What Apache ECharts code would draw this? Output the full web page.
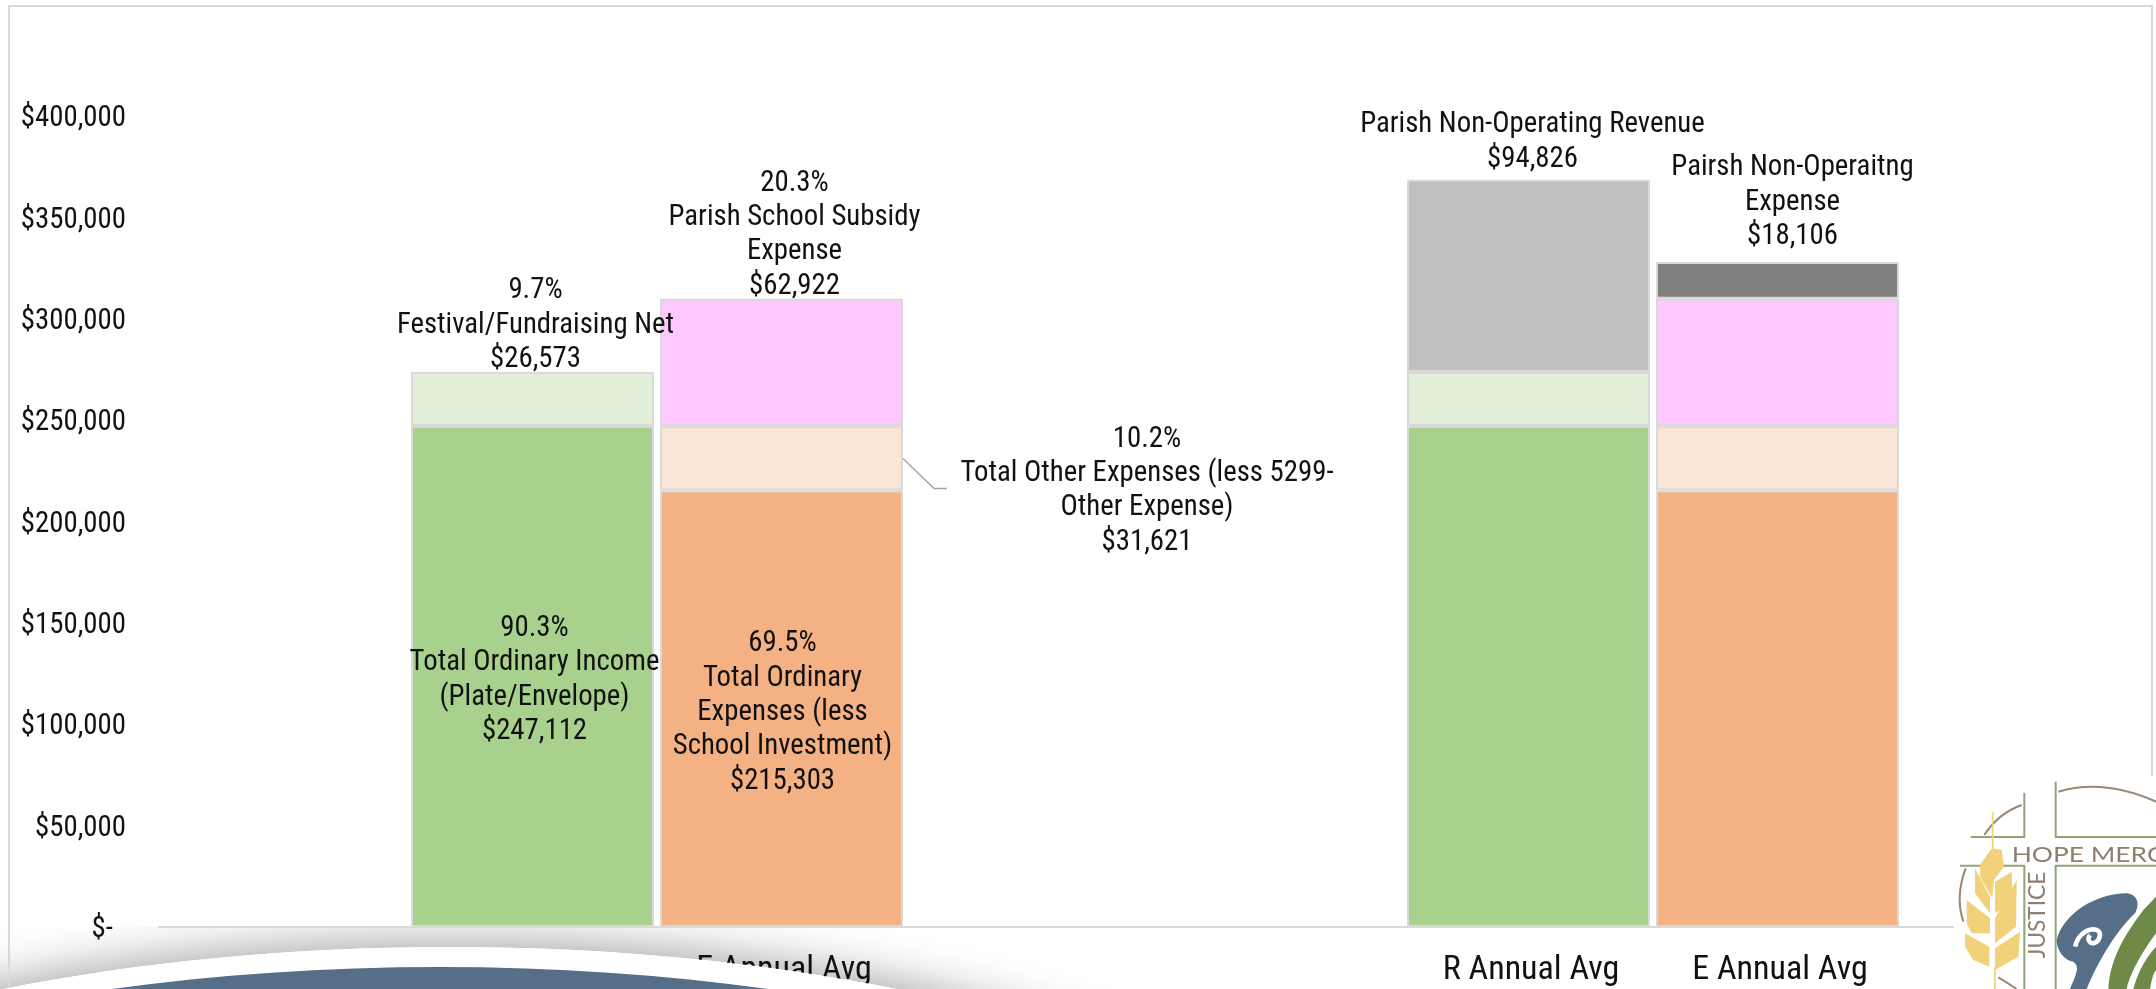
<!DOCTYPE html>
<html>
<head>
<meta charset="utf-8">
<style>html,body{margin:0;padding:0;background:#fff}#c{width:2156px;height:989px}</style>
<script src="https://cdn.jsdelivr.net/npm/echarts@6/dist/echarts.min.js"></script>
</head>
<body>
<div id="c"></div>
<script>
const categories = ['', 'R Annual Avg', 'E Annual Avg', '', '', 'R Annual Avg', 'E Annual Avg', ''];
const yTicks = [0, 50000, 100000, 150000, 200000, 250000, 300000, 350000, 400000];
const ordinaryIncome = [null, 247112, null, null, null, 247112, null, null];
const festivalNet = [null, 26573, null, null, null, 26573, null, null];
const nonOpRevenue = [null, null, null, null, null, 94826, null, null];
const ordinaryExpense = [null, null, 215303, null, null, null, 215303, null];
const otherExpense = [null, null, 31621, null, null, null, 31621, null];
const schoolSubsidy = [null, null, 62922, null, null, null, 62922, null];
const nonOpExpense = [null, null, null, null, null, null, 18106, null];
const ordinaryIncomeLabel = '90.3%\nTotal Ordinary Income\n(Plate/Envelope)\n$247,112';
const festivalLabel = '9.7%\nFestival/Fundraising Net\n$26,573';
const nonOpRevenueLabel = 'Parish Non-Operating Revenue\n$94,826';
const ordinaryExpenseLabel = '69.5%\nTotal Ordinary\nExpenses (less\nSchool Investment)\n$215,303';
const otherExpenseLabel = '10.2%\nTotal Other Expenses (less 5299-\nOther Expense)\n$31,621';
const schoolLabel = '20.3%\nParish School Subsidy\nExpense\n$62,922';
const nonOpExpenseLabel = 'Pairsh Non-Operaitng\nExpense\n$18,106';

const FONT = "'Roboto Condensed','Liberation Sans Narrow',Roboto,sans-serif";
const FS = 28.8, LH = 34.4, TXT = '#111';
const BORDER = '#d9d9d9';
const BAR_SHARE = 0.976;

function bar(name, values, color, labelIndex, text, labelOpt, extra) {
  return Object.assign({
    name, type: 'bar', stack: 'total', barWidth: (BAR_SHARE * 100) + '%',
    itemStyle: { color, borderColor: BORDER, borderWidth: 2 },
    data: values.map((v, i) => i === labelIndex ? {
      value: v,
      label: Object.assign({
        show: true, formatter: text, fontFamily: FONT, fontSize: FS,
        lineHeight: LH, color: TXT, align: 'center'
      }, labelOpt)
    } : v)
  }, extra || {});
}

let pathCount = 0;
function pathEl(d, style, z) {
  const name = 'logoPath' + (pathCount++);
  echarts.graphic.registerShape(name, echarts.graphic.extendPath(d));
  return { type: name, z: z || 101, style };
}
const arcStyle = { fill: 'none', stroke: '#9A8672', lineWidth: 6 };

const chart = echarts.init(document.getElementById('c'));
const baseGraphics = [
  { type: 'ellipse', z: 0, silent: true, shape: { cx: 450, cy: 1347, rx: 1000, ry: 400 },
    style: { fill: '#fff', shadowBlur: 50, shadowColor: 'rgba(0,0,0,0.4)', shadowOffsetY: -2 } },
  { type: 'rect', z: 0, silent: true, shape: { x: 0, y: 0, width: 2156, height: 927 }, style: { fill: '#fff' } },
  { type: 'rect', z: 1, silent: true, shape: { x: 9, y: 6, width: 2143, height: 1000 },
    style: { fill: 'none', stroke: BORDER, lineWidth: 2 } },
  { type: 'ellipse', z: 100, silent: true, shape: { cx: 450, cy: 1347, rx: 1000, ry: 400 }, style: { fill: '#fff' } },
  { type: 'ellipse', z: 101, silent: true, shape: { cx: 440, cy: 1367, rx: 1000, ry: 400 },
    style: { fill: '#566E87' } },
  { type: 'rect', z: 100, silent: true, shape: { x: 1954, y: 776, width: 202, height: 213 }, style: { fill: '#fff' } },
  { type: 'group', silent: true, x: 1930, y: 770, scaleX: 1 / 3, scaleY: 1 / 3, children: [
    pathEl('M385 65 Q520 25 678 95', arcStyle),
    pathEl('M163 195 Q205 130 275 105', arcStyle),
    pathEl('M107 295 Q75 380 100 455', arcStyle),
    pathEl('M205 622 Q235 640 260 657', arcStyle),
    pathEl('M377 35 V201 H678 M283 68 V201 H122 M90 287 H283 V657 M678 287 H377 V657', { fill: 'none', stroke: '#8FA477', lineWidth: 6 }),
    pathEl('M188 125 V240 M195 590 V657', { fill: 'none', stroke: '#F1D27A', lineWidth: 5 }, 102),
    pathEl('M185 235 L215 240 L222 290 L192 330 L187 385 L150 320 L150 285Z ' +
      'M195 335 L245 305 L248 390 L195 430Z ' +
      'M135 295 L180 380 L180 430 L135 370Z ' +
      'M195 445 L260 330 L258 470 L195 520Z ' +
      'M110 390 L180 445 L180 490 L125 490 L110 460Z ' +
      'M195 535 L270 485 L265 560 L195 600Z ' +
      'M105 490 L178 530 L178 590 L130 570 L105 530Z', { fill: '#F1D27A' }, 102),
    pathEl('M380 510 C400 430 500 370 590 370 C620 372 632 400 615 430 C570 470 510 560 470 657 L420 657 C440 610 450 590 430 575 C400 570 380 540 380 510Z', { fill: '#566E87' }, 102),
    pathEl('M436 530 C445 470 530 460 505 510 C490 530 465 515 480 495', { fill: 'none', stroke: '#fff', lineWidth: 14 }, 103),
    pathEl('M678 380 L640 420 C580 500 540 570 535 657 L590 657 C600 610 640 540 678 490Z M678 530 C640 570 620 620 610 657 L660 657 C665 630 670 610 678 600Z', { fill: '#6F8A48' }, 102),
    { type: 'text', z: 103, x: 245, y: 222, scaleX: 1.2, style: { text: 'HOPE MERCY', fontFamily: 'Lato', fontSize: 66, fill: '#8F7F6E' } },
    { type: 'text', z: 103, x: 358, y: 305, rotation: Math.PI / 2, style: { text: 'JUSTICE', fontFamily: 'Lato', fontSize: 68, fill: '#8F7F6E', align: 'right', verticalAlign: 'bottom' } }
  ] }
];

chart.setOption({
  animation: false,
  backgroundColor: '#fff',
  grid: { left: 159, right: 5, top: 116, bottom: 62 },
  xAxis: {
    type: 'category', data: categories, z: 5,
    axisLine: { lineStyle: { color: BORDER, width: 2 } },
    axisTick: { show: false },
    axisLabel: {
      interval: 0, margin: 26,
      formatter: v => v ? '{c|' + v + '}' : '',
      rich: { c: { fontFamily: FONT, fontSize: 34, color: TXT, padding: [0, 0, 0, 5] } }
    }
  },
  yAxis: {
    type: 'value', min: yTicks[0], max: yTicks[yTicks.length - 1], interval: yTicks[1] - yTicks[0], z: 5,
    axisLine: { show: false }, axisTick: { show: false }, splitLine: { show: false },
    axisLabel: {
      margin: 33,
      formatter: v => '{t|' + (v === 0 ? '$-  ' : '$' + v.toLocaleString('en-US')) + '}',
      rich: { t: { fontFamily: FONT, fontSize: FS, color: TXT, padding: [6, 0, 0, 0] } }
    }
  },
  series: [
    bar('Total Ordinary Income', ordinaryIncome, '#A9D18E', 1, ordinaryIncomeLabel, { position: 'inside', offset: [2, 4] }),
    bar('Festival/Fundraising Net', festivalNet, '#E2F0D9', 1, festivalLabel, { position: 'top', distance: 0, offset: [3, 5] }),
    bar('Parish Non-Operating Revenue', nonOpRevenue, '#BFBFBF', 5, nonOpRevenueLabel, { position: 'top', distance: 0, offset: [4, -3] }),
    bar('Total Ordinary Expenses', ordinaryExpense, '#F4B183', 2, ordinaryExpenseLabel, { position: 'inside', offset: [1, 4] }),
    bar('Total Other Expenses', otherExpense, '#FBE5D6', 2, otherExpenseLabel, { position: 'right' }, {
      labelLayout: { x: 1147, y: 491, align: 'center', verticalAlign: 'middle' }
    }),
    bar('Parish School Subsidy Expense', schoolSubsidy, '#FFC9FF', 2, schoolLabel, { position: 'top', distance: 0, offset: [13, 5] }),
    bar('Parish Non-Operating Expense', nonOpExpense, '#7F7F7F', 6, nonOpExpenseLabel, { position: 'top', distance: 4, offset: [15, -4] })
  ],
  graphic: { elements: baseGraphics.map((e, i) => Object.assign({ id: 'g' + i }, e)) }
});

// Leader line from the "Total Other Expenses" segment to its label, anchored through the chart's scales.
const anchor = chart.convertToPixel({ seriesIndex: 0 }, [2, ordinaryExpense[2] + otherExpense[2] / 2]);
const bandWidth = chart.convertToPixel({ seriesIndex: 0 }, [3, 0])[0] - chart.convertToPixel({ seriesIndex: 0 }, [2, 0])[0];
const startX = anchor[0] + bandWidth * BAR_SHARE / 2;
chart.setOption({ graphic: { elements: [{
  id: 'leader', type: 'polyline', z: 5, silent: true,
  shape: { points: [[startX, anchor[1]], [startX + 31, anchor[1] + 30], [startX + 44, anchor[1] + 30]] },
  style: { fill: 'none', stroke: '#a6a6a6', lineWidth: 1.5 }
}] } });
</script>
</body>
</html>
